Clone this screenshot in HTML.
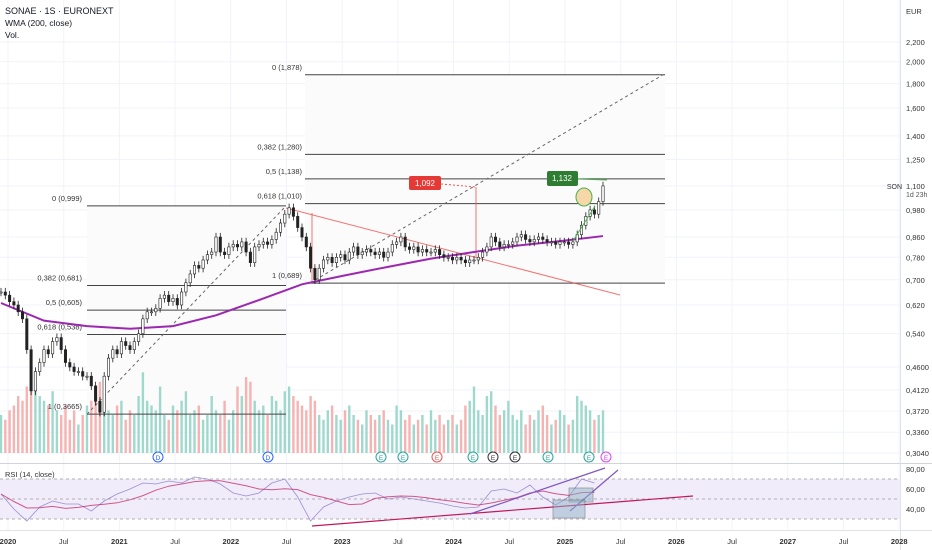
<!DOCTYPE html>
<html><head><meta charset="utf-8"><style>
body{margin:0;background:#fff;font-family:"Liberation Sans",sans-serif}
svg{display:block}
text{font-family:"Liberation Sans",sans-serif}
</style></head><body>
<svg id="c" width="932" height="550" viewBox="0 0 932 550">
<g id="grid"></g>
<g id="pane"></g>
<g id="rsi"></g>
<g id="axes"></g>
<text x="5" y="14" font-size="9" fill="#131722">SONAE · 1S · EURONEXT</text>
<text x="5" y="26" font-size="8.5" fill="#131722">WMA (200, close)</text>
<text x="5" y="38" font-size="8.5" fill="#131722">Vol.</text>
</svg>
<script>
const closes=[.66,.65,.63,.62,.60,.58,.50,.41,.45,.47,.50,.49,.52,.53,.50,.47,.46,.45,.45,.44,.44,.42,.39,.37,.44,.48,.50,.49,.52,.51,.50,.52,.54,.58,.60,.60,.61,.64,.65,.63,.64,.62,.66,.69,.72,.75,.74,.77,.79,.80,.86,.80,.79,.82,.83,.82,.84,.80,.76,.82,.83,.84,.83,.85,.88,.92,.96,.99,.95,.90,.86,.82,.74,.70,.74,.77,.78,.76,.78,.79,.77,.80,.82,.79,.80,.81,.80,.79,.80,.78,.80,.83,.84,.86,.82,.81,.82,.80,.81,.80,.80,.81,.79,.78,.78,.77,.78,.77,.76,.77,.77,.78,.80,.82,.86,.84,.82,.83,.83,.84,.86,.87,.85,.84,.85,.86,.85,.84,.84,.83,.84,.84,.83,.84,.87,.91,.95,.98,.96,1.02,1.10];
const volumes=[40,35,45,50,60,55,70,95,80,60,55,50,65,45,40,50,35,45,30,40,50,55,60,75,65,45,40,50,55,35,45,40,60,85,55,50,45,70,40,35,50,45,55,65,40,45,50,35,40,60,45,40,55,35,45,70,60,80,75,55,45,50,40,60,55,45,65,70,60,55,50,45,60,55,40,35,45,50,40,35,45,50,40,35,30,45,40,35,40,45,35,30,50,45,35,40,30,35,40,30,45,35,40,30,35,40,30,35,50,55,70,45,40,60,65,50,40,45,55,40,35,45,30,40,35,45,50,40,30,35,45,40,30,35,60,55,50,45,35,40,45];
const wma=[.626,.575,.56,.553,.56,.59,.635,.685,.715,.745,.775,.80,.825,.843,.864];
const rsiVals=[55,40,28,42,48,45,45,38,48,55,60,66,65,68,66,72,70,65,56,53,56,66,70,52,28,42,48,52,55,56,50,52,50,48,46,43,41,42,58,60,56,64,52,44,52,70,66];
const priceTicks=["2,200","2,000","1,800","1,600","1,400","1,250","1,100","0,980","0,860","0,780","0,700","0,620","0,540","0,4600","0,4120","0,3720","0,3360","0,3040"];
const rsiTicks=[80,60,40];
const xLabels=["2020","Jul","2021","Jul","2022","Jul","2023","Jul","2024","Jul","2025","Jul","2026","Jul","2027","Jul","2028"];
const leftFib=[["0",.999],["0,382",.681],["0,5",.605],["0,618",.538],["1",.3665]];
const rightFib=[["0",1.878],["0,382",1.280],["0,5",1.138],["0,618",1.010],["1",.689]];

const NS="http://www.w3.org/2000/svg";
let a;
const y=p=>205.7-207.7*Math.log(p);
const xi=i=>i*4.3+1;
const ry=v=>549-v;
const yearX=t=>8+111.4*(t-2020);
function el(par,tag,at,txt){const e=document.createElementNS(NS,tag);for(const k in at)e.setAttribute(k,at[k]);if(txt!==undefined)e.textContent=txt;document.getElementById(par).appendChild(e);return e;}
const pr=v=>parseFloat(v.replace(",","."));

priceTicks.forEach(t=>{const g=el('grid','line',{x1:0,x2:900,y1:y(pr(t)),y2:y(pr(t)),stroke:'#f0f3fa','stroke-width':1});

});
xLabels.forEach((l,k)=>{const g=el('grid','line',{x1:yearX(2020+k/2),x2:yearX(2020+k/2),y1:0,y2:530,stroke:'#f0f3fa'});

});

a=el('grid','rect',{x:87,y:y(.999),width:199,height:y(.3665)-y(.999),fill:'#fbfbfb'});
a=el('grid','rect',{x:305,y:y(1.878),width:360,height:y(.689)-y(1.878),fill:'#fbfbfb'});

volumes.forEach((v,i)=>{const up=i==0||closes[i]>=closes[i-1];const h=v*0.95;
const r=el('pane','rect',{x:xi(i)-1.2,y:453-h,width:2.4,height:h,fill:up?'#9fd9cd':'#f7b2b2'});

});

leftFib.forEach(([l,v])=>{const L=el('pane','line',{x1:87,x2:286,y1:y(v),y2:y(v),stroke:'#444','stroke-width':1});


const T=el('pane','text',{x:82,y:y(v)-5,'font-size':7.5,fill:'#333','text-anchor':'end'},l+' ('+v.toFixed(v==.3665?4:3).replace('.',',')+')');

});
rightFib.forEach(([l,v])=>{const L=el('pane','line',{x1:305,x2:665,y1:y(v),y2:y(v),stroke:'#444','stroke-width':1});


const T=el('pane','text',{x:302,y:y(v)-5,'font-size':7.5,fill:'#333','text-anchor':'end'},l+' ('+v.toFixed(3).replace('.',',')+')');

});
[[87,y(.3665),286,y(.999)],[310,y(.689),663,y(1.878)]].forEach(b=>{const d=el('pane','line',{x1:b[0],y1:b[1],x2:b[2],y2:b[3],stroke:'#666','stroke-dasharray':'3,3'});

});

[[286,208,620,295],[312,213,312,283],[476,187,476,257]].forEach(b=>{const d=el('pane','line',{x1:b[0],y1:b[1],x2:b[2],y2:b[3],stroke:'#ef5350','stroke-width':1,opacity:.8});

});
a=el('pane','line',{x1:441,y1:184,x2:476,y2:187,stroke:'#ef5350','stroke-dasharray':'2,2'});

const wp=wma.map((v,k)=>xi(k*10)+','+y(v)).join(' ');
const W=el('pane','polyline',{points:wp,fill:'none',stroke:'#9c27b0','stroke-width':2});



closes.forEach((c,i)=>{const o=i?closes[i-1]:c;const hi=Math.max(o,c)*1.02,lo=Math.min(o,c)*0.98;const x=xi(i);
const w=el('pane','line',{x1:x,x2:x,y1:y(hi),y2:y(lo),stroke:'#222','stroke-width':.8});


const t=Math.min(y(o),y(c)),h=Math.max(1,Math.abs(y(o)-y(c)));
const b=el('pane','rect',{x:x-1.2,y:t,width:2.4,height:h,fill:c>=o?'#fff':'#222',stroke:'#222','stroke-width':.6});

});

a=el('pane','rect',{x:409,y:176,width:32,height:14,rx:2,fill:'#e53935'});
a=el('pane','text',{x:425,y:186,'font-size':8,fill:'#fff','text-anchor':'middle'},'1,092');
a=el('pane','rect',{x:547,y:171,width:31,height:15,rx:2,fill:'#2e7d32'});
a=el('pane','text',{x:562,y:181,'font-size':8,fill:'#fff','text-anchor':'middle'},'1,132');
a=el('pane','line',{x1:578,y1:179,x2:607,y2:180,stroke:'#4caf50'});
a=el('pane','ellipse',{cx:584,cy:197,rx:8,ry:9,fill:'#f6d7a7',stroke:'#4caf50'});
a=el('pane','line',{x1:573,y1:241,x2:595,y2:206,stroke:'#4caf50'});

[[158,'D','#2962ff'],[268,'D','#2962ff'],[381,'E','#26a69a'],[403,'E','#26a69a'],[437,'E','#ef5350'],[473,'E','#26a69a'],[493,'E','#333'],[515,'E','#333'],[548,'E','#26a69a'],[589,'E','#26a69a'],[606,'E','#e040fb']].forEach(([x,l,c])=>{
const g=el('pane','circle',{cx:x,cy:457,r:5,fill:'#fff',stroke:c});
const t=el('pane','text',{x:x,y:460,'font-size':6.5,fill:c,'text-anchor':'middle'},l);});

a=el('rsi','line',{x1:0,x2:932,y1:463.5,y2:463.5,stroke:'#d1d4dc'});
a=el('rsi','rect',{x:0,y:ry(70),width:900,height:40,fill:'#f1ecfa'});
[70,50,30].forEach(v=>{const l=el('rsi','line',{x1:0,x2:900,y1:ry(v),y2:ry(v),stroke:'#999','stroke-dasharray':'3,3','stroke-width':.7});});
const rx=k=>xi(k*3);
a=el('rsi','polyline',{points:rsiVals.map((v,k)=>rx(k)+','+ry(v)).join(' '),fill:'none',stroke:'#9a8fd0','stroke-width':.8});
const ma=rsiVals.map((v,k)=>{const s=rsiVals.slice(Math.max(0,k-4),k+1);return s.reduce((p,q)=>p+q,0)/s.length;});
a=el('rsi','polyline',{points:ma.map((v,k)=>rx(k)+','+ry(v)).join(' '),fill:'none',stroke:'#c2185b','stroke-width':1,opacity:.7});
[[312,526,693,496,'#c2185b'],[470,514,605,468,'#7e57c2'],[570,511,618,470,'#7e57c2']].forEach(b=>{const l=el('rsi','line',{x1:b[0],y1:b[1],x2:b[2],y2:b[3],stroke:b[4],'stroke-width':1.2});});
[[569,488,24,14],[553,500,32,18]].forEach(b=>{const r=el('rsi','rect',{x:b[0],y:b[1],width:b[2],height:b[3],fill:'#90b4c8',opacity:.5,stroke:'#333','stroke-width':.7});});
a=el('rsi','text',{x:5,y:477,'font-size':7.5,fill:'#333'},'RSI (14, close)');

a=el('axes','line',{x1:900.5,x2:900.5,y1:0,y2:550,stroke:'#e0e3eb'});
a=el('axes','line',{x1:0,x2:932,y1:530.5,y2:530.5,stroke:'#e0e3eb'});
a=el('axes','text',{x:906,y:14,'font-size':7.5,fill:'#333'},'EUR');
priceTicks.forEach(t=>{const e=el('axes','text',{x:906,y:y(pr(t))+3,'font-size':7.5,fill:'#333'},t);});
a=el('axes','text',{x:906,y:y(1.1)+11,'font-size':7,fill:'#555'},'1d 23h');
a=el('axes','text',{x:902,y:y(1.1)+3,'font-size':7,fill:'#333','text-anchor':'end'},'SON');
rsiTicks.forEach(v=>{const e=el('axes','text',{x:906,y:ry(v)+3,'font-size':7.5,fill:'#333'},v+',00');});
xLabels.forEach((l,k)=>{const e=el('axes','text',{x:yearX(2020+k/2),y:544,'font-size':7.5,fill:'#333','text-anchor':'middle','font-weight':l.length==4?'bold':'normal'},l);});
</script>
</body></html>
